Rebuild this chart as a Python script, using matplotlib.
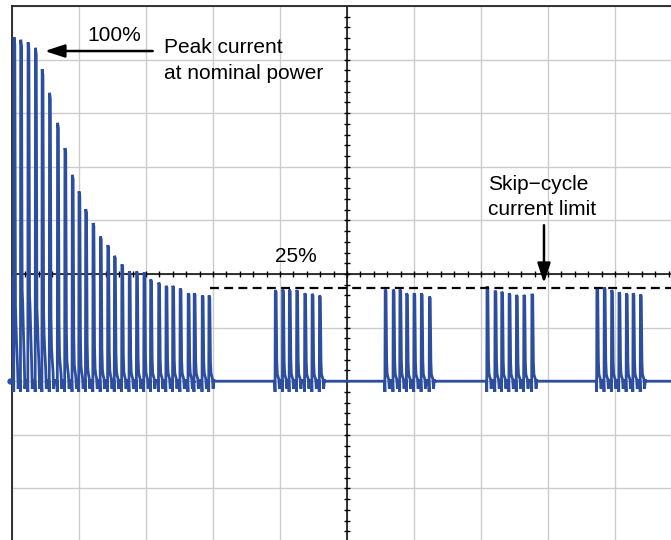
import matplotlib
matplotlib.use('Agg')
import matplotlib.pyplot as plt
import numpy as np

# ---------------- data (screen divisions) ----------------
BASE = -2.0                 # trace baseline
SKIP_LEVEL = -0.26          # skip-cycle current limit (dashed)
SKIP_START = 2.96

ramp_t = [0.03, 0.13, 0.24, 0.35, 0.45, 0.56, 0.68, 0.79, 0.90, 1.00, 1.10, 1.21, 1.32, 1.43,
          1.53, 1.64, 1.75, 1.86, 1.97, 2.07, 2.19, 2.30, 2.40, 2.51, 2.63, 2.72, 2.84, 2.94]
ramp_peak = [4.42, 4.37, 4.32, 4.22, 3.82, 3.38, 2.82, 2.35, 1.85, 1.54, 1.21, 0.95, 0.70, 0.54,
             0.34, 0.18, 0.05, 0.05, 0.03, -0.10, -0.16, -0.22, -0.22, -0.27, -0.36, -0.36, -0.40, -0.40]
ramp_tail = [1.2, 1.7, 1.6, 1.3, 1.0, 0.75, 0.55, 0.45, 0.35, 0.3, 0.25, 0.22, 0.2, 0.2,
             0.18, 0.18, 0.18, 0.18, 0.18, 0.18, 0.18, 0.18, 0.18, 0.18, 0.18, 0.18, 0.18, 0.18]

burst1_t = [3.93, 4.04, 4.14, 4.25, 4.37, 4.48, 4.59]
burst1_peak = [-0.30, -0.29, -0.29, -0.30, -0.36, -0.37, -0.40]
burst2_t = [5.57, 5.69, 5.79, 5.89, 6.00, 6.11, 6.23]
burst2_peak = [-0.29, -0.29, -0.29, -0.36, -0.36, -0.36, -0.42]
burst3_t = [7.09, 7.21, 7.31, 7.42, 7.53, 7.64, 7.76]
burst3_peak = [-0.23, -0.31, -0.33, -0.36, -0.39, -0.39, -0.37]
burst4_t = [8.73, 8.84, 8.95, 9.06, 9.17, 9.27, 9.38]
burst4_peak = [-0.25, -0.25, -0.30, -0.34, -0.36, -0.36, -0.38]
burst_tail = 0.15

# single-pulse shape (time offset, fraction of height, tail, ringing)
shape_dt = [-0.010, -0.004, 0.000, 0.012, 0.017, 0.022, 0.030, 0.040, 0.052, 0.062, 0.072, 0.085]
shape_frac = [0.0, 0.0, 1.0, 0.98, 0.55, 0.22, 0.08, 0.03, 0.0, 0.0, 0.0, 0.0]
shape_tail = [0.0, 0.0, 0.0, 0.0, 0.0, 1.0, 0.85, 0.55, 0.25, 0.0, 0.0, 0.0]
shape_ring = [0.0, -0.20, 0.0, 0.0, 0.0, 0.0, 0.0, 0.0, 0.0, -0.14, 0.03, 0.0]

# start of the trace at the left edge
start_x = [-0.03, -0.006, 0.0, 0.005]
start_y = [BASE, BASE, -0.05, BASE]

# ---------------- build trace ----------------
pulses = list(zip(ramp_t, ramp_peak, ramp_tail))
for bt, bp in [(burst1_t, burst1_peak), (burst2_t, burst2_peak),
               (burst3_t, burst3_peak), (burst4_t, burst4_peak)]:
    pulses += [(t, p, burst_tail) for t, p in zip(bt, bp)]
pulses.sort()

xs = list(start_x)
ys = list(start_y)
for t, p, tl in pulses:
    h = p - BASE
    for dt, f, ts, r in zip(shape_dt, shape_frac, shape_tail, shape_ring):
        xs.append(t + dt)
        ys.append(BASE + max(f * h, ts * tl) + r)
xs.append(10.2)
ys.append(BASE)

# ---------------- figure ----------------
W, H = 671, 540
fig = plt.figure(figsize=(W / 100, H / 100), dpi=100)
plt.rcParams['font.family'] = ['Liberation Sans', 'DejaVu Sans']

ax = fig.add_axes([12 / W, (H - 542) / H, 670 / W, 536 / H])
ax.set_xlim(0, 10)
ax.set_ylim(-5, 5)
ax.set_xticks(np.arange(0, 11, 1))
ax.set_yticks(np.arange(-5, 6, 1))
ax.tick_params(length=0, labelbottom=False, labelleft=False)
ax.grid(True, color='#c9cdcb', lw=1.0, zorder=0)
for s in ['right', 'bottom']:
    ax.spines[s].set_visible(False)
for s in ['left', 'top']:
    ax.spines[s].set_color('#222222')
    ax.spines[s].set_linewidth(1.3)

# center crosshair with minor ticks
ax.axhline(0, color='black', lw=1.1, zorder=2)
ax.axvline(5, color='black', lw=1.1, zorder=2)
mx = np.arange(0.2, 10.0, 0.2)
my = np.arange(-4.8, 5.0, 0.2)
ax.plot(mx, np.zeros_like(mx), ls='none', marker='|', ms=4.5, mew=1.0, color='black', zorder=2)
ax.plot(np.full_like(my, 5.0), my, ls='none', marker='_', ms=4.5, mew=1.0, color='black', zorder=2)

# trace
ax.plot(xs, ys, color='#2d4e9e', lw=2.0, solid_joinstyle='miter', zorder=3)
ax.plot([-0.03], [BASE], marker='o', ms=3.5, color='#2d4e9e', clip_on=False, zorder=3)

# skip-cycle current limit
ax.hlines(SKIP_LEVEL, SKIP_START, 10, colors='black', lw=1.6,
          linestyles=[(0, (4.0, 2.4))], zorder=4)

# annotations
fs = 15
ax.text(1.12, 4.35, '100%', fontsize=fs, va='baseline', ha='left')
ax.text(2.27, 4.12, 'Peak current', fontsize=fs, va='baseline', ha='left')
ax.text(2.27, 3.63, 'at nominal power', fontsize=fs, va='baseline', ha='left')
ax.text(3.93, 0.23, '25%', fontsize=fs, va='baseline', ha='left')
ax.text(7.10, 1.57, 'Skip\u2212cycle', fontsize=fs, va='baseline', ha='left')
ax.text(7.10, 1.10, 'current limit', fontsize=fs, va='baseline', ha='left')

arrow = dict(arrowstyle='-|>,head_length=0.85,head_width=0.28', color='black',
             lw=1.8, mutation_scale=14, shrinkA=0, shrinkB=0)
ax.annotate('', xy=(0.49, 4.16), xytext=(2.10, 4.16), arrowprops=arrow, zorder=5)
ax.annotate('', xy=(7.94, -0.17), xytext=(7.94, 0.91), arrowprops=arrow, zorder=5)

fig.savefig('out.png', dpi=100)
